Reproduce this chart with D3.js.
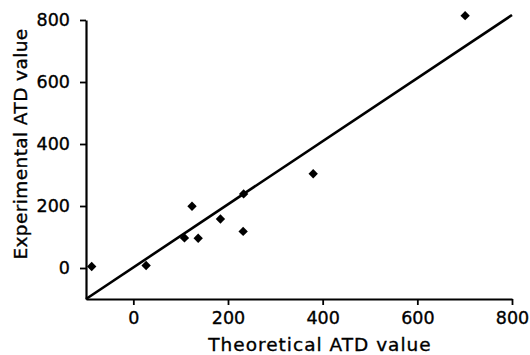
<!DOCTYPE html>
<html>
<head>
<meta charset="utf-8">
<script src="https://cdn.jsdelivr.net/npm/d3@7"></script>
<style>
  body { margin: 0; background: #fff; }
  svg { display: block; font-family: "DejaVu Sans", Verdana, sans-serif; }
</style>
</head>
<body>
<div id="chart"></div>
<script>
// values
const theoretical = [-88, 27, 108, 137, 124, 184, 233, 232, 380, 701];
const experimental = [5, 8, 97, 96, 199, 158, 239, 118, 304, 814];
const xTicks = [0, 200, 400, 600, 800];
const yTicks = [0, 200, 400, 600, 800];
const identityLine = [-100, 800];

const width = 530, height = 355;
const margin = { left: 86, right: 18, top: 20, bottom: 56 };

const x = d3.scaleLinear().domain([-100, 800]).range([margin.left, width - margin.right]);
const y = d3.scaleLinear().domain([-100, 800]).range([height - margin.bottom, margin.top]);

const svg = d3.select("#chart").append("svg")
  .attr("width", width)
  .attr("height", height);

// y = x reference line
svg.append("line")
  .attr("x1", x(identityLine[0])).attr("y1", y(identityLine[0]))
  .attr("x2", x(identityLine[1])).attr("y2", y(identityLine[1]) - 5)
  .attr("stroke", "#000")
  .attr("stroke-width", 2.6);

// axes
const xAxis = svg.append("g")
  .attr("transform", `translate(0,${y(-100)})`)
  .call(d3.axisBottom(x).tickValues(xTicks).tickSize(6).tickPadding(7).tickSizeOuter(0));

const yAxis = svg.append("g")
  .attr("transform", `translate(${x(-100)},0)`)
  .call(d3.axisLeft(y).tickValues(yTicks).tickSize(6).tickPadding(10).tickSizeOuter(0));

[xAxis, yAxis].forEach(a => {
  a.select(".domain").attr("stroke-width", 2.2);
  a.selectAll(".tick line").attr("stroke-width", 1.8);
  a.selectAll("text")
    .attr("font-family", "DejaVu Sans, Verdana, sans-serif")
    .attr("font-size", 17.5)
    .attr("fill", "#000")
    .attr("stroke", "#000")
    .attr("stroke-width", 0.35);
});

// points
const diamond = d3.symbol().type(d3.symbolDiamond2).size(56);
svg.append("g")
  .selectAll("path")
  .data(theoretical.map((t, i) => [t, experimental[i]]))
  .join("path")
  .attr("transform", d => `translate(${x(d[0])},${y(d[1])})`)
  .attr("d", diamond)
  .attr("fill", "#000");

// axis titles
svg.append("text")
  .attr("x", 320)
  .attr("y", 351)
  .attr("text-anchor", "middle")
  .attr("font-size", 18.5)
  .attr("letter-spacing", 1)
  .attr("stroke", "#000")
  .attr("stroke-width", 0.35)
  .text("Theoretical ATD value");

svg.append("text")
  .attr("transform", "translate(27,144) rotate(-90)")
  .attr("text-anchor", "middle")
  .attr("font-size", 18.5)
  .attr("letter-spacing", 0.4)
  .attr("stroke", "#000")
  .attr("stroke-width", 0.35)
  .text("Experimental ATD value");
</script>
</body>
</html>
